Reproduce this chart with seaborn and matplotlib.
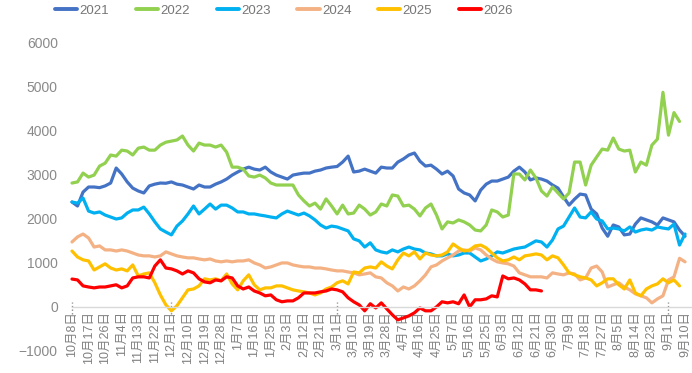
import numpy as np
import pandas as pd
import matplotlib
matplotlib.use("Agg")
import matplotlib.pyplot as plt
from matplotlib.lines import Line2D
import seaborn as sns

# Category labels shown every third trading point
tick_labels = ["10月8日", "10月17日", "10月26日", "11月4日", "11月13日", "11月22日",
               "12月1日", "12月10日", "12月19日", "12月28日", "1月7日", "1月16日",
               "1月25日", "2月3日", "2月12日", "2月21日", "3月1日", "3月10日",
               "3月19日", "3月28日", "4月7日", "4月16日", "4月25日", "5月7日",
               "5月16日", "5月25日", "6月3日", "6月12日", "6月21日", "6月30日",
               "7月9日", "7月18日", "7月27日", "8月5日", "8月14日", "8月23日",
               "9月1日", "9月10日"]
# label indices that carry a dotted marker on the zero line
marked_labels = [0, 6, 16, 36]

years = ["2021", "2022", "2023", "2024", "2025", "2026"]
colors = ["#4472C4", "#92D050", "#00B0F0", "#F4B183", "#FFC000", "#FF0000"]

v2021 = [2375, 2285, 2600, 2715, 2715, 2700, 2740, 2805, 3145, 3010,
         2830, 2690, 2625, 2580, 2740, 2780, 2805, 2800, 2830, 2780,
         2760, 2715, 2670, 2760, 2715, 2715, 2780, 2830, 2895, 2985,
         3055, 3120, 3165, 3120, 3100, 3165, 3055, 2985, 2940, 2895,
         2985, 3010, 3030, 3030, 3075, 3100, 3145, 3165, 3180, 3280,
         3415, 3055, 3075, 3120, 3075, 3030, 3165, 3145, 3145, 3280,
         3350, 3440, 3485, 3300, 3190, 3210, 3120, 3010, 3075, 2965,
         2670, 2580, 2535, 2400, 2645, 2780, 2850, 2850, 2895, 2940,
         3075, 3165, 3055, 2875, 2920, 2895, 2850, 2760, 2690, 2490,
         2305, 2440, 2555, 2535, 2215, 2105, 1785, 1600, 1855, 1810,
         1630, 1650, 1875, 2015, 1970, 1925, 1855, 2015, 1970, 1925,
         1740, 1600]

v2022 = [2805, 2830, 3030, 2940, 2985, 3190, 3255, 3440, 3415, 3550,
         3530, 3440, 3595, 3620, 3550, 3550, 3665, 3730, 3755, 3780,
         3870, 3665, 3530, 3710, 3665, 3665, 3620, 3665, 3505, 3165,
         3165, 3120, 2965, 2940, 2985, 2920, 2805, 2760, 2760, 2760,
         2760, 2535, 2400, 2285, 2350, 2215, 2445, 2285, 2105, 2305,
         2105, 2125, 2305, 2215, 2080, 2150, 2330, 2285, 2535, 2510,
         2285, 2305, 2215, 2060, 2240, 2330, 2080, 1765, 1925, 1900,
         1970, 1925, 1855, 1740, 1720, 1855, 2195, 2150, 2035, 2080,
         3010, 3010, 2875, 3100, 2920, 2625, 2510, 2715, 2580, 2445,
         2580, 3280, 3280, 2760, 3210, 3395, 3575, 3550, 3825, 3575,
         3530, 3550, 3055, 3280, 3210, 3665, 3800, 4860, 3890, 4400,
         4200]

v2023 = [2375, 2350, 2465, 2170, 2125, 2150, 2080, 2035, 1990, 2015,
         2125, 2195, 2195, 2260, 2105, 1925, 1765, 1695, 1630, 1830,
         1945, 2105, 2285, 2105, 2215, 2330, 2215, 2305, 2305, 2240,
         2150, 2150, 2105, 2105, 2080, 2060, 2035, 2015, 2105, 2170,
         2125, 2080, 2125, 2060, 1970, 1855, 1785, 1830, 1810, 1765,
         1720, 1540, 1495, 1355, 1450, 1290, 1245, 1220, 1290, 1245,
         1310, 1355, 1310, 1290, 1220, 1200, 1155, 1155, 1200, 1155,
         1175, 1220, 1220, 1130, 1040, 1085, 1155, 1245, 1220, 1265,
         1310, 1335, 1355, 1425, 1495, 1470, 1355, 1515, 1765, 1830,
         2035, 2240, 2035, 2015, 2150, 1990, 1945, 1765, 1785, 1765,
         1720, 1810, 1695, 1740, 1765, 1740, 1810, 1785, 1765, 1875,
         1400, 1650]

v2024 = [1470, 1585, 1650, 1560, 1355, 1380, 1290, 1290, 1265, 1290,
         1265, 1220, 1175, 1155, 1155, 1130, 1155, 1245, 1200, 1155,
         1130, 1110, 1110, 1085, 1065, 1085, 1040, 1020, 1040, 1020,
         1040, 1040, 1065, 995, 950, 880, 905, 950, 995, 995,
         950, 925, 905, 905, 880, 880, 860, 835, 815, 815,
         790, 770, 725, 745, 770, 680, 655, 545, 475, 360,
         450, 405, 475, 590, 725, 905, 950, 1040, 1110, 1175,
         1265, 1290, 1265, 1335, 1290, 1175, 1085, 1020, 995, 975,
         925, 770, 725, 680, 680, 680, 655, 770, 745, 725,
         770, 745, 610, 655, 880, 925, 790, 450, 500, 545,
         450, 385, 295, 250, 205, 90, 180, 250, 610, 680,
         1100, 1020]

v2025 = [1265, 1130, 1065, 1040, 835, 905, 975, 880, 835, 860,
         815, 950, 700, 745, 770, 545, 270, 45, -90, 25,
         205, 385, 405, 475, 635, 610, 635, 590, 745, 520,
         385, 590, 725, 500, 385, 430, 430, 475, 475, 430,
         385, 360, 340, 315, 270, 315, 405, 450, 545, 590,
         520, 790, 770, 880, 905, 880, 1020, 925, 860, 1065,
         1220, 1155, 1245, 1085, 1220, 1175, 1155, 1175, 1245, 1425,
         1335, 1265, 1290, 1380, 1400, 1335, 1220, 1110, 1040, 1065,
         1130, 1065, 1155, 1175, 1200, 1175, 1065, 1155, 1110, 950,
         770, 725, 680, 655, 610, 475, 545, 635, 635, 500,
         405, 610, 315, 250, 405, 475, 520, 635, 545, 610,
         475]

v2026 = [630, 610, 475, 450, 430, 450, 450, 475, 500, 430,
         475, 655, 680, 680, 655, 925, 1065, 880, 860, 815,
         745, 815, 770, 635, 565, 545, 610, 590, 680, 655,
         475, 405, 450, 360, 315, 250, 270, 160, 115, 135,
         135, 205, 315, 315, 315, 340, 360, 405, 385, 340,
         205, 115, 45, -90, 70, -25, 90, -45, -180, -295,
         -250, -205, -135, -25, -90, -90, 0, 115, 90, 115,
         70, 270, 0, 160, 160, 180, 250, 225, 700, 635,
         655, 610, 520, 385, 385, 360]

y_ticks = [-1000, 0, 1000, 2000, 3000, 4000, 5000, 6000]

series = dict(zip(years, [v2021, v2022, v2023, v2024, v2025, v2026]))
frames = [pd.DataFrame({"point": np.arange(len(vals)), "value": vals, "year": yr})
          for yr, vals in series.items()]
df = pd.concat(frames, ignore_index=True)

sns.set_theme(style="white")
plt.rcParams["font.family"] = ["Liberation Sans", "Noto Sans CJK SC", "DejaVu Sans"]
plt.rcParams["axes.unicode_minus"] = True

label_step = 3
fig = plt.figure(figsize=(6.92, 3.73), dpi=100)
ax = fig.add_axes([62 / 692, 22 / 373, 630 / 692, 309 / 373])

sns.lineplot(data=df, x="point", y="value", hue="year", hue_order=years,
             palette=dict(zip(years, colors)), linewidth=2.3, estimator=None,
             sort=False, legend=False, ax=ax)

right_edge = 112.26
ax.set_xlim(-1.81, right_edge)
ax.set_ylim(-1000, 6000)
ax.set_xlabel("")
ax.set_ylabel("")
ax.grid(False)

# category axis drawn along the zero line (spine moved before tick labels are set)
for side in ["left", "right", "top"]:
    ax.spines[side].set_visible(False)
ax.spines["bottom"].set_position(("data", 0))
ax.spines["bottom"].set_bounds(0, right_edge)
ax.spines["bottom"].set_color("#d9d9d9")
ax.spines["bottom"].set_linewidth(1.0)

ax.set_yticks(y_ticks)
ax.set_yticklabels([f"{t:d}".replace("-", "\u2212") for t in y_ticks])
ax.set_xticks(np.arange(len(tick_labels)) * label_step)
ax.set_xticklabels(tick_labels)

ax.tick_params(axis="y", length=0, pad=3, labelsize=10, labelcolor="#8a8a8a")
ax.tick_params(axis="x", length=0, pad=3, labelsize=9, labelcolor="#808080",
               labelrotation=90)

# short dotted markers crossing the zero line
ax.vlines([i * label_step for i in marked_labels], -160, 110, colors="#8c8c8c",
          linestyles=(0, (1, 1.6)), linewidth=1.0, zorder=1)

handles = [Line2D([0], [0], color=c, lw=2.8, solid_capstyle="round") for c in colors]
fig.legend(handles, years, loc="center left", bbox_to_anchor=(55 / 692, 1 - 11 / 373),
           ncol=6, frameon=False, handlelength=1.7, handletextpad=0.18,
           columnspacing=2.0, borderpad=0, borderaxespad=0,
           prop={"family": ["Liberation Sans Narrow", "Liberation Sans"], "size": 9.5},
           labelcolor="#767676")

fig.savefig("out.png", dpi=100)
